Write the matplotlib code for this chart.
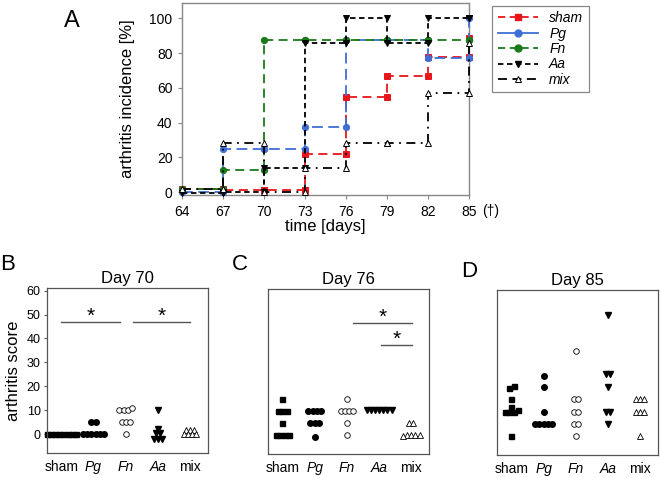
import numpy as np
import matplotlib
matplotlib.use("Agg")
import matplotlib.pyplot as plt
from matplotlib.lines import Line2D

plt.rcParams['font.family'] = ['Liberation Sans', 'DejaVu Sans']

# ---- data: arthritis incidence (%) per day ----
days = [64, 67, 70, 73, 76, 79, 82, 85]
inc_sham = [1.5, 1, 1, 22, 55, 67, 78, 89]
inc_pg = [0, 25, 25, 37.5, 87.5, 87.5, 77, 100]
inc_fn = [2, 12.5, 87.5, 87.5, 87.5, 87.5, 87.5, 87.5]
inc_aa = [-0.5, 0, 14, 86, 100, 86, 100, 100]
inc_mix = [2, 28.5, 0, 14, 28.5, 28.5, 57, 86]

# ---- data: arthritis scores per group ----
groups = ['sham', 'Pg', 'Fn', 'Aa', 'mix']

day70_sham = [0, 0, 0, 0, 0, 0, 0, 0]
day70_pg = [5, 5, 0, 0, 0, 0, 0, 0]
day70_fn = [10, 10, 10, 11, 5, 5, 5, 0]
day70_aa = [10, 2, 0.5, 0.5, -2, -2, -2]
day70_mix = [1.5, 1.5, 1.5, 0, 0, 0, 0]

day76_sham = [15, 10, 10, 10, 5, 0, 0, 0, 0]
day76_pg = [10, 10, 10, 10, 5, 5, 5, -1]
day76_fn = [15, 10, 10, 10, 10, 5, 0]
day76_aa = [10.5, 10.5, 10.5, 10.5, 10.5, 10.5, 10.5]
day76_mix = [5, 5, 0, 0, 0, 0, -0.5]

day85_sham = [21, 20, 15.5, 12, 11, 10, 10, 10, 0]
day85_pg = [25, 20.5, 10, 5, 5, 5, 5, 5]
day85_fn = [35.5, 15.5, 15.5, 10, 10, 5, 5, 0]
day85_aa = [50.5, 26, 26, 20.5, 10, 10, 5]
day85_mix = [15.5, 15.5, 15.5, 10, 10, 10, 0]


def step_xy(x, y):
    """Plateau from each day to the next, with a point at both ends."""
    xs, ys = [x[0]], [y[0]]
    for i in range(1, len(x)):
        xs += [x[i], x[i]]
        ys += [y[i - 1], y[i]]
    return xs, ys


def swarm(vals, center, step=0.13, tol=1.2):
    vals = np.asarray(vals, float)
    xs = np.empty_like(vals)
    group = []

    def flush(g):
        n = len(g)
        for k, idx in enumerate(g):
            xs[idx] = center + (k - (n - 1) / 2) * step

    for idx in np.argsort(vals, kind='stable'):
        if group and vals[idx] - vals[group[0]] > tol:
            flush(group)
            group = []
        group.append(idx)
    flush(group)
    return xs


fig = plt.figure(figsize=(6.6, 4.78), dpi=100)

# ---------------- panel A ----------------
axA = fig.add_axes([0.276, 0.592, 0.435, 0.402])

series = [
    (inc_sham, '#e8161b', 's', (0, (5, 3)), 'sham', 'full'),
    (inc_pg, '#3f6fd6', 'o', (0, (6, 3)), 'Pg', 'full'),
    (inc_fn, '#1a7a1a', 'o', (0, (5, 3)), 'Fn', 'full'),
    (inc_aa, 'black', 'v', (0, (3, 2)), 'Aa', 'full'),
    (inc_mix, 'black', '^', (0, (5, 3, 1, 3)), 'mix', 'none'),
]
for vals, col, mk, ls, lab, fill in series:
    xs, ys = step_xy(days, vals)
    axA.plot(xs, ys, color=col, ls=ls, lw=1.3, marker=mk, ms=4.5,
             mfc=col if fill == 'full' else 'white', mec=col, mew=0.7,
             clip_on=False, zorder=3)

axA.set_xlim(64, 85)
axA.set_ylim(-1.7, 109)
axA.set_xticks(days)
axA.set_xticklabels([str(d) for d in days])
axA.set_yticks([0, 20, 40, 60, 80, 100])
axA.tick_params(labelsize=10, length=3, width=0.8, color='#888888', pad=4)
axA.text(1.045, -0.045, '(†)', transform=axA.transAxes, fontsize=10,
         va='top', ha='left')
for s in axA.spines.values():
    s.set_color('#888888')
    s.set_linewidth(1.0)
axA.set_ylabel('arthritis incidence [%]', fontsize=12, labelpad=10)
axA.set_xlabel('time [days]', fontsize=12, labelpad=0)

handles = [
    Line2D([], [], color='#e8161b', ls=(0, (4, 2.5)), lw=1.3, marker='s', ms=5),
    Line2D([], [], color='#3f6fd6', ls='-', lw=1.3, marker='o', ms=5),
    Line2D([], [], color='#1a7a1a', ls=(0, (4, 2.5)), lw=1.3, marker='o', ms=5),
    Line2D([], [], color='black', ls=(0, (3, 2)), lw=1.3, marker='v', ms=5),
    Line2D([], [], color='black', ls=(0, (5, 3)), lw=1.3, marker='^', ms=5,
           mfc='white', mew=0.7),
]
leg = axA.legend(handles, [s[4] for s in series], loc='upper left',
                 bbox_to_anchor=(1.08, 0.985), borderaxespad=0,
                 prop={'style': 'italic', 'size': 10}, fancybox=False,
                 edgecolor='#888888', framealpha=1, handlelength=2.9,
                 labelspacing=0.1, handletextpad=0.8, borderpad=0.4)
leg.get_frame().set_linewidth(0.9)

fig.text(0.109, 0.956, 'A', fontsize=17, ha='center', va='center')

# ---------------- panels B, C, D ----------------
styles = [
    dict(marker='s', ms=3.6, mfc='black', mec='black'),
    dict(marker='o', ms=4.0, mfc='black', mec='black'),
    dict(marker='o', ms=4.0, mfc='white', mec='black', mew=0.6),
    dict(marker='v', ms=4.6, mfc='black', mec='black'),
    dict(marker='^', ms=4.6, mfc='white', mec='black', mew=0.6),
]

panels = [
    ('B', 'Day 70', [day70_sham, day70_pg, day70_fn, day70_aa, day70_mix],
     [0.071, 0.052], [(0.0, 1.83, 47), (2.22, 4.0, 47)], (0.012, 0.446)),
    ('C', 'Day 76', [day76_sham, day76_pg, day76_fn, day76_aa, day76_mix],
     [0.406, 0.050], [(2.18, 4.03, 47), (3.05, 4.03, 37.6)], (0.364, 0.446)),
    ('D', 'Day 85', [day85_sham, day85_pg, day85_fn, day85_aa, day85_mix],
     [0.753, 0.048], [], (0.711, 0.433)),
]

for i, (letter, title, data, (left, bottom), bars, lpos) in enumerate(panels):
    ax = fig.add_axes([left, bottom, 0.244, 0.345])
    for g, (vals, st) in enumerate(zip(data, styles)):
        xs = swarm(vals, g)
        ax.plot(xs, vals, ls='none', clip_on=False, **st)
    for x0, x1, y in bars:
        ax.plot([x0, x1], [y, y], color='#555555', lw=1.0)
        ax.text((x0 + x1) / 2, y - 1.6, '*', ha='center', va='bottom',
                fontsize=15)
    ax.set_xlim(-0.45, 4.55)
    ax.set_ylim(-8, 61)
    ax.set_xticks(range(5))
    ax.set_xticklabels(groups, fontsize=10)
    for lab in ax.get_xticklabels():
        if lab.get_text() in ('Pg', 'Fn', 'Aa'):
            lab.set_fontstyle('italic')
    ax.tick_params(axis='x', length=0, pad=5)
    if i == 0:
        ax.set_yticks(range(0, 61, 10))
        ax.tick_params(axis='y', labelsize=9, length=2.5, width=0.8,
                       color='#555555', pad=2)
        ax.set_ylabel('arthritis score', fontsize=12, labelpad=4)
    else:
        ax.set_yticks([])
    for s in ax.spines.values():
        s.set_color('#555555')
        s.set_linewidth(0.9)
    ax.set_title(title, fontsize=12, pad=4)
    fig.text(lpos[0], lpos[1], letter, fontsize=16, ha='center', va='center')

fig.savefig('out.png', dpi=100)
